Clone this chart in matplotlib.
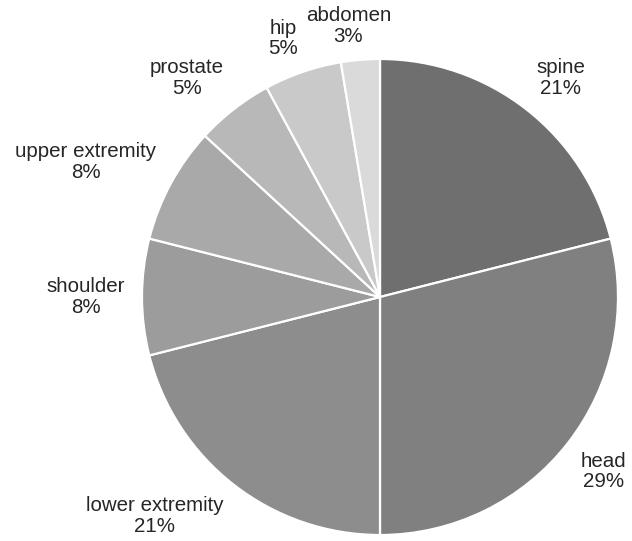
import numpy as np
import matplotlib.pyplot as plt

labels = ['spine', 'head', 'lower extremity', 'shoulder',
          'upper extremity', 'prostate', 'hip', 'abdomen']
counts = [8, 11, 8, 3, 3, 2, 2, 1]
colors = ['#6f6f6f', '#808080', '#8d8d8d', '#9c9c9c',
          '#a9a9a9', '#b8b8b8', '#c9c9c9', '#dadada']

plt.rcParams['font.family'] = ['Liberation Sans', 'DejaVu Sans']

fig = plt.figure(figsize=(6.32, 5.41), dpi=100)
ax = fig.add_axes([0, 0, 1, 1])
wedges, _ = ax.pie(counts, colors=colors, startangle=90, counterclock=False,
                   wedgeprops=dict(edgecolor='white', linewidth=1.6))
# pie centre at pixel (380, 297 from top), radius 238 px
ax.set_xlim(-380 / 238, 252 / 238)
ax.set_ylim(-244 / 238, 297 / 238)
ax.set_aspect('auto')
ax.axis('off')

total = sum(counts)
fig.canvas.draw()
renderer = fig.canvas.get_renderer()
inv = ax.transData.inverted()
for w, name, c in zip(wedges, labels, counts):
    mid = np.deg2rad((w.theta1 + w.theta2) / 2)
    t = ax.text(0, 0, '{0}\n{1:.0f}%'.format(name, 100 * c / total),
                ha='center', va='center', fontsize=14.8, color='#262626',
                linespacing=1.12)
    bb = t.get_window_extent(renderer)
    # box corner nearest the pie sits just outside the rim
    px, py = ax.transData.transform((1.07 * np.cos(mid), 1.06 * np.sin(mid)))
    fx = np.clip(3 * np.cos(mid), -1, 1)
    fy = np.clip(1.6 * np.sin(mid), -1, 1)
    t.set_position(inv.transform((px + fx * bb.width / 2, py + fy * bb.height / 2)))

plt.savefig('out.png', dpi=100)
